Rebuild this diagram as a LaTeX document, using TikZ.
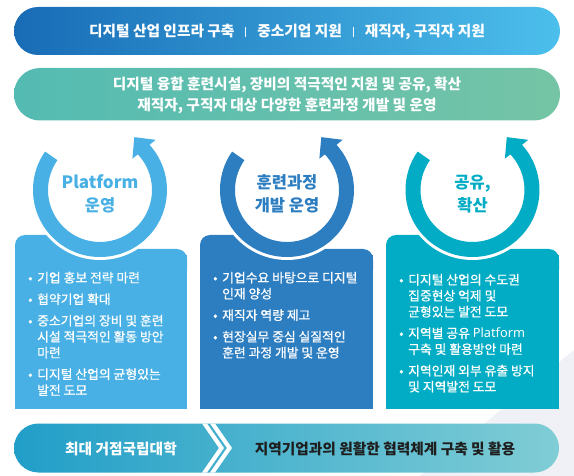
\documentclass[tikz,border=0pt]{standalone}
\usepackage{fontspec}
\setmainfont{Noto Sans CJK KR}
\newfontfamily\lat{Noto Sans}
\newfontfamily\krm{Noto Sans CJK KR}[FakeBold=0.8]
\definecolor{cA}{RGB}{72,176,228}
\definecolor{cB}{RGB}{45,126,193}
\definecolor{cC}{RGB}{1,172,196}
\definecolor{topL}{RGB}{24,108,182}
\definecolor{topR}{RGB}{76,191,236}
\definecolor{midL}{RGB}{84,187,178}
\definecolor{midR}{RGB}{117,196,166}
\definecolor{botL}{RGB}{33,158,200}
\definecolor{botM}{RGB}{74,178,208}
\definecolor{botR}{RGB}{128,205,213}
\definecolor{pale}{RGB}{239,241,247}
\definecolor{darktext}{RGB}{30,30,30}
\newcommand\barsep{\hspace{11pt}{\color{white!90!topR}\rule[-0.5pt]{0.9pt}{9.5pt}}\hspace{11pt}}
\newcommand\bul{\makebox[9pt][l]{•}}
\newcommand\ringarrow[3]{%
  \begin{scope}[shift={(#1,#2)}]
    \fill[white] (0,0) circle[radius=70pt];
    \fill[#3] (145:67pt) arc[start angle=145,end angle=406,radius=67pt]
      -- (406:52pt) arc[start angle=406,end angle=145,radius=52pt] -- cycle;
    \fill[#3] (44:45pt) -- (42:75pt) -- (57:63pt) -- cycle;
  \end{scope}}
\newcommand\boxshape[4]{% x1, xm, x2, color
  \fill[#4, rounded corners=10pt] (#1,235) rectangle (#2,270);
  \fill[#4, rounded corners=10pt] (#2,249) rectangle (#3,280);
  \fill[#4] (#1,255) rectangle (#3,409);}
\tikzset{
  bartext/.style={text=white, font=\fontsize{14.7}{21}\selectfont\bfseries, align=center, inner sep=0},
  ringtext/.style={font=\fontsize{16.5}{23.5}\selectfont\bfseries, align=center, inner sep=0},
  boxtext/.style={text=white, font=\krm\fontsize{12.8}{16}\selectfont, inner sep=0, anchor=base west},
}
\begin{document}
\begin{tikzpicture}[x=1pt,y=-1pt]
\useasboundingbox (0,0) rectangle (574,476);
% pale background shape
\fill[pale] (574,350) -- (574,476) -- (420,476) -- cycle;
% boxes
\boxshape{15}{101}{187}{cA}
\boxshape{200}{286.5}{373}{cB}
\boxshape{386}{472.5}{559}{cC}
% rings
\ringarrow{100}{190}{cA}
\ringarrow{287}{190}{cB}
\ringarrow{472.5}{190}{cC}
% top bars
\shade[left color=topL, right color=topR, rounded corners=24pt] (14,7) rectangle (560,55);
\shade[left color=midL, right color=midR, rounded corners=26pt] (14,68) rectangle (560,120.5);
% bottom bar
\shade[left color=botL, middle color=botM, right color=botR, rounded corners=24.5pt] (14,423.5) rectangle (559,472.5);
\fill[white] (202,423.5) -- (207,423.5) -- (224,448) -- (207,472.5) -- (202,472.5) -- (219,448) -- cycle;
\fill[white] (210,423.5) -- (215,423.5) -- (232,448) -- (215,472.5) -- (210,472.5) -- (227,448) -- cycle;
% bar texts
\node[bartext] (t1) at (287,31.5) {디지털 산업 인프라 구축\barsep 중소기업 지원\barsep 재직자, 구직자 지원};
\node[bartext] (t2) at (287,95.5) {디지털 융합 훈련시설, 장비의 적극적인 지원 및 공유, 확산\\재직자, 구직자 대상 다양한 훈련과정 개발 및 운영};
\node[bartext] (b1) at (121,448.5) {최대 거점국립대학};
\node[bartext, text=darktext] (b2) at (385,448.5) {지역기업과의 원활한 협력체계 구축 및 활용};
% ring texts
\node[ringtext, text=cA] (r1) at (100,194) {{\fontsize{17}{23.5}\selectfont Platform}\\운영};
\node[ringtext, text=cB] (r2) at (287,194) {훈련과정\\개발 운영};
\node[ringtext, text=cC] (r3) at (472.5,194) {공유,\\확산};
% box texts
\node[boxtext] (x1) at (28,282.5) {\begin{tabular}[t]{@{}l@{}l@{}}
\bul & 기업 홍보 전략 마련\\[5.5pt]
\bul & 협약기업 확대\\[5.5pt]
\bul & 중소기업의 장비 및 훈련\\
 & 시설 적극적인 활동 방안\\
 & 마련\\[5.5pt]
\bul & 디지털 산업의 균형있는\\
 & 발전 도모
\end{tabular}};
\node[boxtext] (x2) at (213,282.5) {\begin{tabular}[t]{@{}l@{}l@{}}
\bul & 기업수요 바탕으로 디지털\\
 & 인재 양성\\[5.5pt]
\bul & 재직자 역량 제고\\[5.5pt]
\bul & 현장실무 중심 실질적인\\
 & 훈련 과정 개발 및 운영
\end{tabular}};
\node[boxtext] (x3) at (399,284.5) {\begin{tabular}[t]{@{}l@{}l@{}}
\bul & 디지털 산업의 수도권\\
 & 집중현상 억제 및\\
 & 균형있는 발전 도모\\[5.5pt]
\bul & 지역별 공유 {\lat Platform}\\
 & 구축 및 활용방안 마련\\[5.5pt]
\bul & 지역인재 외부 유출 방지\\
 & 및 지역발전 도모
\end{tabular}};
\end{tikzpicture}
\end{document}
